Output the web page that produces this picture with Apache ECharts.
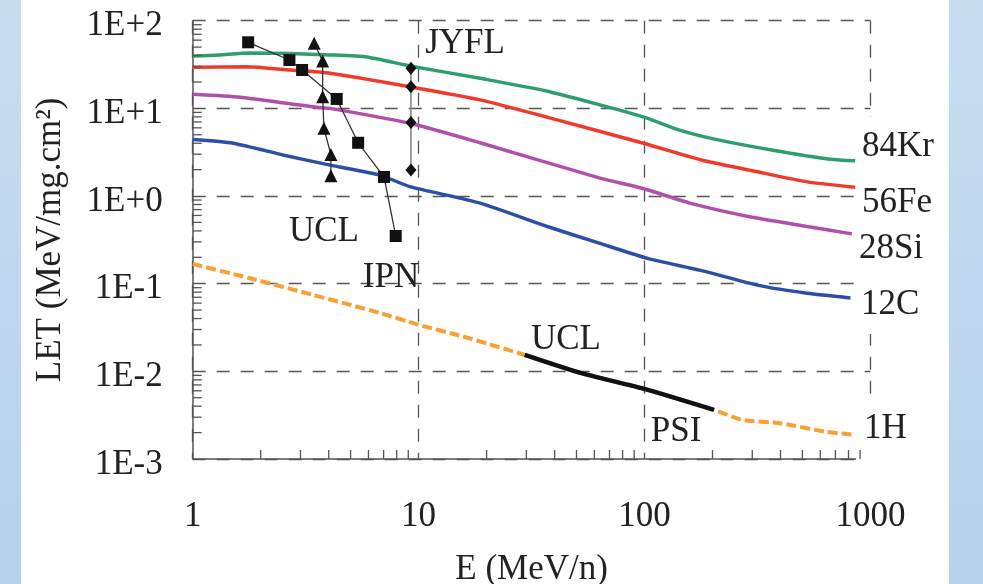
<!DOCTYPE html>
<html><head><meta charset="utf-8">
<script src="https://cdn.jsdelivr.net/npm/echarts@6/dist/echarts.min.js"></script>
<style>html,body{margin:0;padding:0;background:#fff}#c{width:983px;height:584px}</style>
</head><body><div id="c"></div>
<script>
// ---- tick labels ----
const xTickValues = [1, 10, 100, 1000];
const xTickLabels = ['1', '10', '100', '1000'];
const yTickValues = [0.001, 0.01, 0.1, 1, 10, 100];
const yTickLabels = ['1E-3', '1E-2', '1E-1', '1E+0', '1E+1', '1E+2'];
const xMinorTicks = [2,3,4,5,6,7,8,9,20,30,40,50,60,70,80,90,200,300,400,500,600,700,800,900];
const yMinorTicks = [0.002,0.003,0.004,0.005,0.006,0.007,0.008,0.009,0.02,0.03,0.04,0.05,0.06,0.07,0.08,0.09,
  0.2,0.3,0.4,0.5,0.6,0.7,0.8,0.9,2,3,4,5,6,7,8,9,20,30,40,50,60,70,80,90];

// ---- series values [E (MeV/n), LET (MeV/mg.cm2)] ----
const kr84 = [[1,39.5],[1.3,40.5],[1.79,42.8],[2.7,42.2],[4.07,40.7],[5.9,38.5],[9.15,30.5],[18.7,22.0],[38,15.5],[98.5,8.0],[143,5.65],[209,4.4],[371,3.33],[664,2.63],[856,2.52]];
const fe56 = [[1,29.4],[1.74,29.9],[2.7,27.4],[4.06,25.1],[9.15,17.6],[18.7,12.5],[38,7.8],[99,4.0],[177,2.59],[316,1.89],[525,1.45],[856,1.26]];
const si28 = [[1,14.5],[1.62,13.4],[3.55,10.3],[4.05,10.0],[9.15,6.75],[18.7,4.05],[63,1.61],[98.5,1.22],[159,0.83],[292,0.58],[525,0.45],[828,0.37]];
const c12 = [[1,4.4],[1.51,4.0],[2.51,2.94],[4.06,2.25],[6.74,1.73],[9.15,1.28],[18.7,0.83],[38,0.44],[63,0.29],[104,0.193],[177,0.142],[324,0.095],[525,0.0777],[816,0.0688]];
const h1 = [[1,0.168],[1.79,0.1155],[3.41,0.0744],[6.74,0.0464],[9.9,0.0342],[15.7,0.025],[29.5,0.0154],[52,0.0096],[100,0.0063],[203,0.00363],[271,0.00279],[397,0.00256],[640,0.00204],[825,0.0019]];
const uclPsi = [[29.5,0.0154],[52,0.0096],[100,0.0063],[203,0.00363]];
const ipn = [[1.76,56.7],[2.68,35.6],[3.05,27.4],[4.34,12.8],[5.40,4.05],[7.03,1.65],[7.92,0.35]];
const uclLow = [[3.45,55.2],[3.76,34.7],[3.76,13.6],[3.81,5.93],[4.09,2.97],[4.09,1.70]];
const jyfl = [[9.25,28.6],[9.25,17.6],[9.25,6.9],[9.25,1.98]];

const FONT = 'Liberation Serif';
const AX = '#555';
const chart = echarts.init(document.getElementById('c'), null, {renderer: 'canvas'});

function curve(name, data, color, extra) {
  return Object.assign({
    name, type: 'line', data, symbol: 'none', smooth: 0.2,
    lineStyle: {color, width: 3.5}, itemStyle: {color}, z: 3, silent: true
  }, extra || {});
}
function tickSeries(data, horizontal) {
  return {
    type: 'custom', silent: true, z: 4, clip: false,
    data: horizontal ? data.map(v => [v, 0.001]) : data.map(v => [1, v]),
    renderItem: (params, api) => {
      const p = api.coord([api.value(0), api.value(1)]);
      const shape = horizontal ? {x1: p[0], y1: p[1], x2: p[0], y2: p[1] - 9}
                               : {x1: p[0], y1: p[1], x2: p[0] + 9, y2: p[1]};
      return {type: 'line', shape, style: {stroke: AX, lineWidth: 1.3}};
    }
  };
}
function label(text, x, y, align) {
  return {type: 'text', x, y, z: 20, silent: true,
    style: {text, font: '35px "' + FONT + '"', fill: '#222', textAlign: align || 'center',
      textVerticalAlign: 'middle', verticalAlign: 'middle'}};
}
const stripeFill = {type: 'linear', x: 0, y: 0, x2: 0, y2: 1,
  colorStops: [{offset: 0, color: '#c9def1'}, {offset: 1, color: '#b5d1ec'}]};

chart.setOption({
  backgroundColor: '#fff',
  animation: false,
  grid: {left: 192.7, right: 112.6, top: 20.7, bottom: 125, containLabel: false, outerBoundsMode: 'none'},
  xAxis: {
    type: 'log', logBase: 10, min: 1, max: 1000,
    name: 'E (MeV/n)', nameLocation: 'middle', nameGap: 93,
    nameTextStyle: {fontFamily: FONT, fontSize: 35, color: '#222'},
    axisLine: {lineStyle: {color: AX, width: 1.5}},
    axisTick: {show: false},
    axisLabel: {fontFamily: FONT, fontSize: 35, color: '#222', margin: 40,
      formatter: v => { const i = xTickValues.findIndex(t => Math.abs(Math.log10(t) - Math.log10(v)) < 1e-6); return i >= 0 ? xTickLabels[i] : ''; }},
    splitLine: {show: true, lineStyle: {color: AX, width: 1.3, type: [13, 11]}},
    minorTick: {show: false}
  },
  yAxis: {
    type: 'log', logBase: 10, min: 0.001, max: 100,
    name: 'LET (MeV/mg.cm²)', nameLocation: 'middle', nameGap: 124,
    nameTextStyle: {fontFamily: FONT, fontSize: 35, color: '#222'},
    axisLine: {show: true, lineStyle: {color: AX, width: 1.5}},
    axisTick: {show: false},
    axisLabel: {fontFamily: FONT, fontSize: 35, color: '#222', margin: 30,
      rich: {t: {fontFamily: FONT, fontSize: 35, color: '#222', padding: [11, 0, 0, 0]}},
      formatter: v => { const i = yTickValues.findIndex(t => Math.abs(Math.log10(t) - Math.log10(v)) < 1e-6); return i >= 0 ? '{t|' + yTickLabels[i] + '}' : ''; }},
    splitLine: {show: true, lineStyle: {color: AX, width: 1.3, type: [13, 11]}}
  },
  graphic: [
    {type: 'rect', shape: {x: 0, y: 0, width: 21, height: 584}, style: {fill: stripeFill}, z: -10, silent: true},
    {type: 'rect', shape: {x: 949, y: 0, width: 34, height: 584}, style: {fill: stripeFill}, z: -10, silent: true},
    {type: 'rect', shape: {x: 855, y: 117, width: 94, height: 217}, style: {fill: '#fff'}, z: 1, silent: true},
    {type: 'rect', shape: {x: 856, y: 399, width: 93, height: 70}, style: {fill: '#fff'}, z: 1, silent: true},
    label('JYFL', 465, 43.5),
    label('UCL', 324, 231.5),
    label('IPN', 391, 277.5),
    label('UCL', 566, 340),
    label('PSI', 676, 432),
    label('84Kr', 862, 147, 'left'),
    label('56Fe', 862, 202.5, 'left'),
    label('28Si', 859, 249, 'left'),
    label('12C', 861, 305, 'left'),
    label('1H', 864, 429, 'left')
  ],
  series: [
    tickSeries(xMinorTicks, true),
    tickSeries(yMinorTicks, false),
    curve('1H', h1, '#f7a033', {lineStyle: {color: '#f7a033', width: 4, type: [10, 4]}}),
    curve('UCL/PSI', uclPsi, '#111', {lineStyle: {color: '#111', width: 4.5}, z: 4}),
    curve('12C', c12, '#2b4fa6'),
    curve('28Si', si28, '#b050a8'),
    curve('56Fe', fe56, '#ef3b2c'),
    curve('84Kr', kr84, '#2e9e6e'),
    {name: 'IPN', type: 'line', data: ipn, symbol: 'rect', symbolSize: 12, z: 6, silent: true,
      itemStyle: {color: '#111'}, lineStyle: {color: '#333', width: 1.3}},
    {name: 'UCL', type: 'line', data: uclLow, symbol: 'triangle', symbolSize: 13, z: 6, silent: true,
      itemStyle: {color: '#111'}, lineStyle: {color: '#333', width: 1.3}},
    {name: 'JYFL', type: 'line', data: jyfl, symbol: 'diamond', symbolSize: [11, 13], z: 6, silent: true,
      itemStyle: {color: '#111'}, lineStyle: {color: '#888', width: 1.6}}
  ]
});
</script></body></html>
